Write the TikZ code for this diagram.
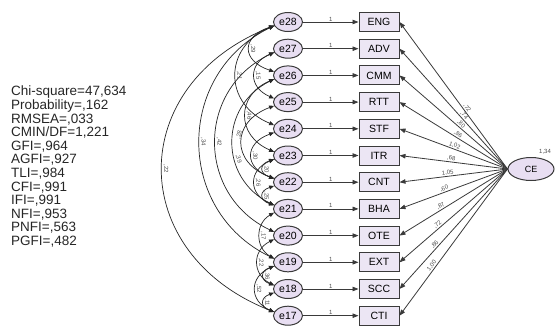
\documentclass[tikz,border=0pt]{standalone}
\usepackage{fontspec}
\setmainfont{Liberation Sans}
\usetikzlibrary{arrows.meta,shapes.geometric}
\definecolor{efill}{HTML}{E8DEF2}
\definecolor{bfill}{HTML}{ECE6F4}
\definecolor{lcol}{HTML}{3A3A3A}
\newcommand\covar[6][0.5]{\draw[cov] (#2.195) .. controls +(-#4,#5) and +(-#4,-#5) .. node[lab,pos=#1,sloped,above]{#6} (#3.165);}
\begin{document}
\begin{tikzpicture}[x=1pt,y=-1pt,
 err/.style={ellipse,draw=lcol,fill=efill,line width=1pt,minimum width=29pt,minimum height=19pt,inner sep=0pt,font=\fontsize{10.5}{11}\selectfont},
 obs/.style={rectangle,draw=lcol,fill=bfill,line width=1pt,minimum width=40pt,minimum height=19pt,inner sep=0pt,font=\fontsize{10.5}{11}\selectfont},
 lat/.style={ellipse,draw=lcol,fill=efill,line width=1pt,minimum width=46pt,minimum height=23pt,inner sep=0pt,font=\fontsize{9}{10}\selectfont},
 regr/.style={draw=lcol,line width=0.8pt,-{Triangle[length=6pt,width=4.5pt]}},
 cov/.style={draw=black!85,line width=0.7pt,{Triangle[length=5pt,width=4pt]}-{Triangle[length=5pt,width=4pt]}},
 lab/.style={font=\fontsize{6}{6.5}\selectfont,text=black!70,inner sep=0.6pt},
]
\useasboundingbox (0,0) rectangle (555,325);
\node[anchor=north west,align=left,inner sep=0pt,text=black!85,font=\fontsize{13.5}{13.6}\selectfont] (fit) at (11,86)
 {Chi-square=47,634\\Probability=,162\\RMSEA=,033\\CMIN/DF=1,221\\GFI=,964\\AGFI=,927\\TLI=,984\\CFI=,991\\IFI=,991\\NFI=,953\\PNFI=,563\\PGFI=,482};
\node[lat] (CE) at (531,169) {CE};
\node[lab] (var) at (545,152) {1,34};
\foreach \i/\e/\b/\l in {0/e28/ENG/{,72},1/e27/ADV/{,74},2/e26/CMM/{,80},3/e25/RTT/{,86},4/e24/STF/{1,02},5/e23/ITR/{,68},6/e22/CNT/{1,05},7/e21/BHA/{,60},8/e20/OTE/{,87},9/e19/EXT/{,72},10/e18/SCC/{,86},11/e17/CTI/{1,00}}{
 \node[err] (\e) at (288,{22+26.7*\i}) {\e};
 \node[obs] (\b) at (379,{22+26.7*\i}) {\b};
 \draw[regr] (\e.east) -- node[lab,above]{1} (\b.west);
 \pgfmathsetmacro\pp{0.40+0.025*\i}
 \draw[regr] (CE.west) -- node[lab,pos=\pp,sloped,above]{\l} (\b.east);
}
\covar{e28}{e17}{149}{59}{,22}
\covar{e28}{e19}{99}{48}{,34}
\covar{e27}{e20}{78}{37}{,42}
\covar[0.62]{e26}{e21}{55}{27}{,39}
\covar{e28}{e24}{51}{21}{,21}
\covar{e28}{e26}{33}{11}{,29}
\covar{e27}{e25}{26}{11}{,15}
\covar{e26}{e23}{38}{16}{,46}
\covar[0.42]{e25}{e22}{43}{16}{,28}
\covar{e24}{e22}{30}{11}{,30}
\covar{e23}{e21}{26}{11}{,26}
\covar{e23}{e22}{15}{5}{,20}
\covar{e22}{e21}{15}{5}{,25}
\covar{e21}{e19}{19}{11}{,17}
\covar{e20}{e18}{22}{11}{,22}
\covar{e19}{e18}{14}{5}{,36}
\covar{e19}{e17}{25}{11}{,52}
\covar{e18}{e17}{14}{5}{,11}
\end{tikzpicture}
\end{document}
